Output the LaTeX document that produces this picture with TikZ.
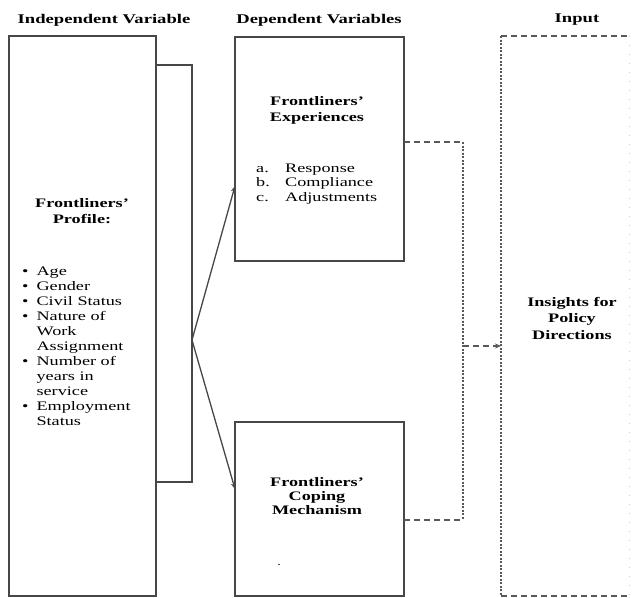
\documentclass[tikz,border=0pt]{standalone}
\usepackage{fontspec}
\setmainfont{Liberation Serif}[FakeStretch=1.4]
\usetikzlibrary{arrows.meta}
\begin{document}
\begin{tikzpicture}[x=1pt,y=-1pt,
  box/.style={draw=black!72, line width=1.3pt, inner sep=0pt, outer sep=0pt, anchor=north west},
  hdr/.style={font=\fontsize{13.3}{16}\selectfont\bfseries, inner sep=0pt},
  ttl/.style={font=\fontsize{13}{16.5}\selectfont\bfseries, align=center, inner sep=0pt},
  lst/.style={font=\fontsize{13}{15}\selectfont, inner sep=0pt, anchor=base west},
  link/.style={draw=black!72, line width=1.3pt},
  dlink/.style={draw=black!65, line width=1.1pt, dash pattern=on 6pt off 4pt},
  vlink/.style={draw=black!65, line width=1.2pt, dash pattern=on 2pt off 1.5pt},
  tip/.style={-{Stealth[length=6pt,width=5pt]}}
]
\useasboundingbox (0,0) rectangle (633,598);
\fill[white] (0,0) rectangle (633,598);

% headers
\node[hdr] (h1) at (104,20) {Independent Variable};
\node[hdr] (h2) at (319,20) {Dependent Variables};
\node[hdr] (h3) at (577,20) {Input};

% boxes
\node[box, minimum width=147pt, minimum height=560pt] (indep) at (9,36) {};
\node[box, minimum width=36pt, minimum height=417pt] (conn) at (156,65) {};
\node[box, minimum width=169pt, minimum height=224pt] (exp) at (235,37) {};
\node[box, minimum width=169pt, minimum height=174pt] (cope) at (235,422) {};
\node[inner sep=0pt, outer sep=0pt, anchor=north west, minimum width=128pt, minimum height=560pt] (input) at (501,36) {};
\draw[dlink] (input.north west) -- (input.north east);
\draw[dlink] (input.south west) -- (input.south east);
\draw[vlink] (input.north west) -- (input.south west);
\draw[draw=black!20, line width=0.8pt, dash pattern=on 1pt off 8pt] (input.north east) -- (input.south east);

% left box text
\node[ttl] (pt) at (82,211) {Frontliners'\\Profile:};
\node[lst] (pl) at (22,275) {\begin{tabular}[t]{@{}l@{\hspace{8pt}}l@{}}
\textbullet & Age\\
\textbullet & Gender\\
\textbullet & Civil Status\\
\textbullet & Nature of\\
 & Work\\
 & Assignment\\
\textbullet & Number of\\
 & years in\\
 & service\\
\textbullet & Employment\\
 & Status
\end{tabular}};

% experiences
\node[ttl, font=\fontsize{13}{16}\selectfont\bfseries] (et) at (317,110) {Frontliners'\\Experiences};
\node[lst, font=\fontsize{13}{14.5}\selectfont] (el) at (256,172) {\begin{tabular}[t]{@{}l@{}l@{}}
\makebox[29pt][l]{a.} & Response\\
\makebox[29pt][l]{b.} & Compliance\\
\makebox[29pt][l]{c.} & Adjustments
\end{tabular}};

% coping
\node[ttl, font=\fontsize{13}{14}\selectfont\bfseries] (ct) at (317,496) {Frontliners'\\Coping\\Mechanism};
\node[inner sep=0pt, font=\fontsize{10}{12}\selectfont] (dot) at (279,565) {.};

% input text
\node[ttl] (it) at (572,318) {Insights for\\Policy\\Directions};

% arrows from profile
\coordinate (fork) at (192,340);
\draw[link, tip] (fork) -- ([yshift=-37pt]exp.west);
\draw[link, tip] (fork) -- ([yshift=20pt]cope.west);

% dashed connectors to input
\coordinate (jtop) at (463,142);
\coordinate (jbot) at (463,520);
\coordinate (jmid) at (463,346);
\draw[dlink] ([yshift=7pt]exp.east) -- (jtop);
\draw[dlink] ([yshift=-11pt]cope.east) -- (jbot);
\draw[vlink] (jtop) -- (jbot);
\draw[dlink, tip] (jmid) -- (input.west |- jmid);
\end{tikzpicture}
\end{document}
